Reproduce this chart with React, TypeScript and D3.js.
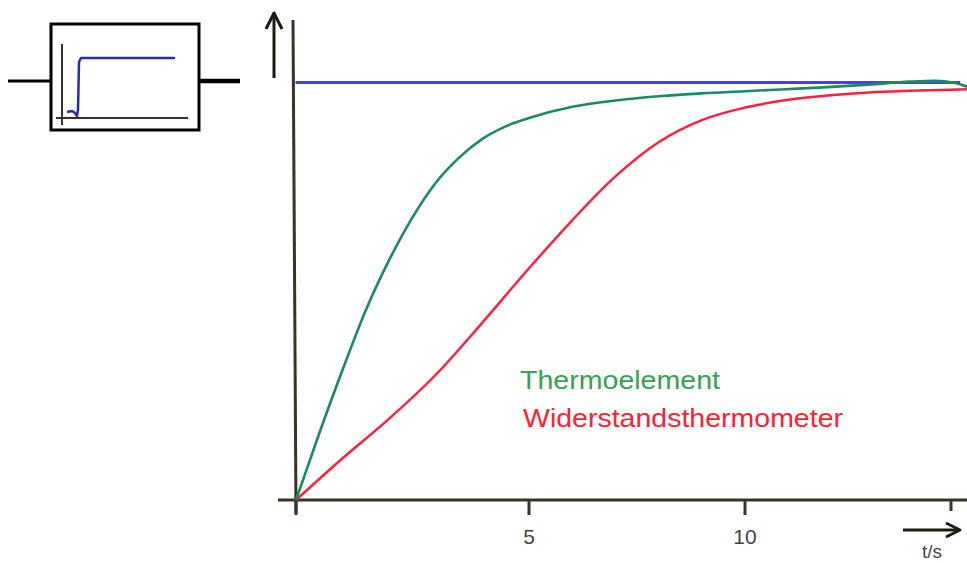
import React from "react";
import * as d3 from "d3";

// Data (time in s, value as fraction of final value)
const thermoT = [0, 0.5, 1, 1.5, 2, 2.5, 3, 3.5, 4, 4.5, 5, 6, 7, 8, 9, 10, 11, 12, 13, 14, 14.6, 15.1, 15.4];
const thermoV = [0, 0.16, 0.312, 0.455, 0.575, 0.677, 0.76, 0.82, 0.865, 0.895, 0.915, 0.942, 0.957, 0.967, 0.974, 0.979, 0.984, 0.989, 0.995, 1.002, 1.004, 0.999, 0.99];
const widerT = [0, 1, 2, 3, 4, 5, 6, 7, 8, 9, 10, 11, 12, 13, 14, 15.4];
const widerV = [0, 0.1, 0.195, 0.3, 0.425, 0.555, 0.67, 0.775, 0.857, 0.91, 0.94, 0.958, 0.969, 0.976, 0.98, 0.984];
const stepRefT = [-0.01, 15.22];
const stepRefV = [1, 1];
const tickValues = [0, 5, 10, 15];
const tickLabels = ["", "5", "10", ""];
const legendNames = ["Thermoelement", "Widerstandsthermometer"];
const axisUnit = "t/s";
// inset icon (normalised step response)
const insetT = [0.04, 0.08, 0.103, 0.119, 0.127, 0.135, 0.151, 0.897];
const insetV = [0.1, 0.117, 0.083, 0.033, 0.133, 0.933, 1, 1];

const W = 967;
const H = 563;

export default function App() {
  const x = d3.scaleLinear().domain([0, 5, 10, 15]).range([296, 529, 745, 951]);
  const y = d3.scaleLinear().domain([0, 1]).range([500, 82.5]);
  const line = (ts: number[], vs: number[], curve: d3.CurveFactory = d3.curveMonotoneX) =>
    d3
      .line<number>()
      .x((_, i) => x(ts[i]))
      .y((_, i) => y(vs[i]))
      .curve(curve)(ts) as string;

  const ix = d3.scaleLinear().domain([0, 1]).range([62, 188]);
  const iy = d3.scaleLinear().domain([0, 1]).range([118, 58]);
  const insetPath = d3
    .line<number>()
    .x((_, i) => ix(insetT[i]))
    .y((_, i) => iy(insetV[i]))
    .curve(d3.curveLinear)(insetT) as string;

  const axisColor = "#3a3426";
  const font = "'Liberation Sans', Arial, sans-serif";

  return (
    <svg
      width={W}
      height={H}
      style={{ position: "absolute", left: 0, top: 0, background: "#fff" }}
    >
      {/* inset block */}
      <line x1={8} y1={81} x2={52} y2={81} stroke="#000" strokeWidth={3} />
      <line x1={198} y1={81} x2={240} y2={81} stroke="#000" strokeWidth={4.5} />
      <rect x={51} y={24} width={148} height={106} fill="#fff" stroke="#000" strokeWidth={3} />
      <line x1={62} y1={44} x2={62} y2={125} stroke="#3a3030" strokeWidth={2} />
      <line x1={56} y1={118} x2={188} y2={118} stroke="#3a3030" strokeWidth={2} />
      <path d={insetPath} fill="none" stroke="#2a2ab4" strokeWidth={2.5} strokeLinejoin="round" />

      {/* axes */}
      <line x1={293} y1={20} x2={296} y2={513} stroke={axisColor} strokeWidth={3} />
      <line x1={278} y1={500} x2={967} y2={500} stroke={axisColor} strokeWidth={3} />
      {tickValues.map((t, i) => (
        <g key={t}>
          <line
            x1={x(t)}
            x2={x(t)}
            y1={500}
            y2={i === tickValues.length - 1 ? 511 : 515}
            stroke={axisColor}
            strokeWidth={3}
          />
          {tickLabels[i] && (
            <text x={x(t)} y={544} textAnchor="middle" fontFamily={font} fontSize={21} fill="#444">
              {tickLabels[i]}
            </text>
          )}
        </g>
      ))}
      {/* up arrow */}
      <line x1={274} y1={78} x2={274} y2={14} stroke="#1e1a12" strokeWidth={3} />
      <polyline points="266,29 274,13 282,29" fill="none" stroke="#1e1a12" strokeWidth={3} strokeLinejoin="round" />
      {/* right arrow */}
      <line x1={903} y1={530} x2={958} y2={530} stroke="#1e1a12" strokeWidth={3} />
      <polyline points="946,523 960,530 946,537" fill="none" stroke="#1e1a12" strokeWidth={3} strokeLinejoin="round" />
      <text x={932} y={558} textAnchor="middle" fontFamily={font} fontSize={19} fill="#444">
        {axisUnit}
      </text>

      {/* curves */}
      <path d={line(stepRefT, stepRefV, d3.curveLinear)} fill="none" stroke="#4242f4" strokeWidth={3} />
      <path d={line(widerT, widerV)} fill="none" stroke="#ff2040" strokeWidth={2.5} />
      <path d={line(thermoT, thermoV)} fill="none" stroke="#1a8a62" strokeWidth={2.6} />

      {/* legend text */}
      <text
        x={520}
        y={389}
        fontFamily={font}
        fontSize={26}
        fill="#32a255"
        textLength={200}
        lengthAdjust="spacingAndGlyphs"
      >
        {legendNames[0]}
      </text>
      <text
        x={523}
        y={427}
        fontFamily={font}
        fontSize={26}
        fill="#ff2035"
        textLength={320}
        lengthAdjust="spacingAndGlyphs"
      >
        {legendNames[1]}
      </text>
    </svg>
  );
}
